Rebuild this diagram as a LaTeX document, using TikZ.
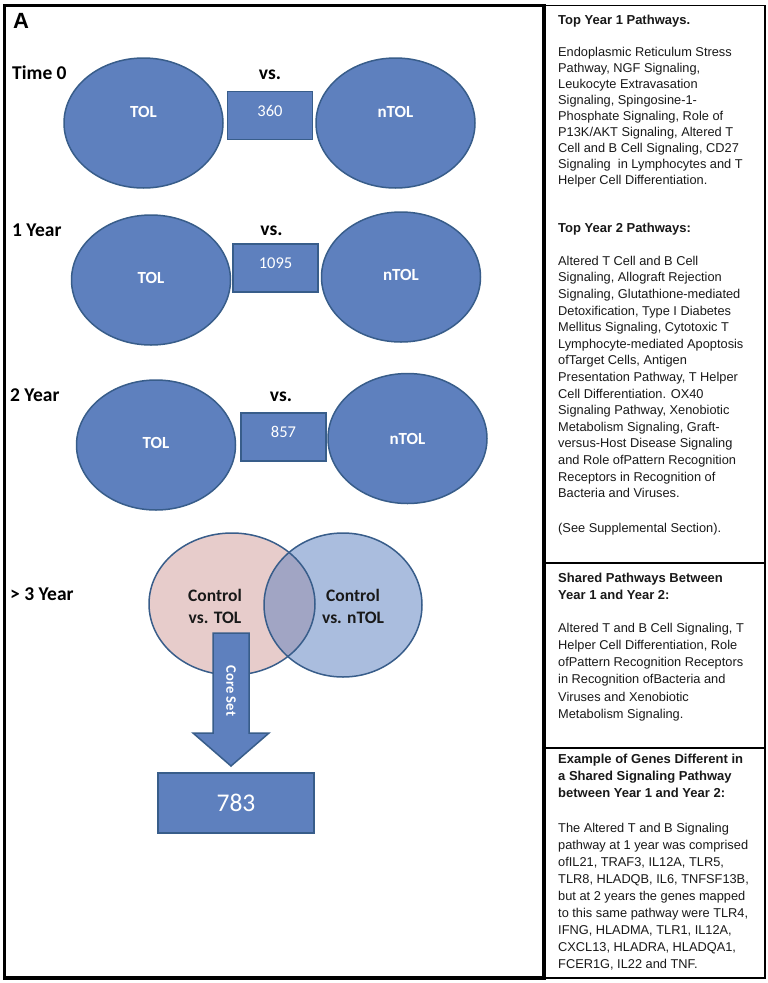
\documentclass[tikz,border=0pt]{standalone}
\usepackage{fontspec}
\setmainfont{Liberation Sans}
\newfontfamily\calfont{Carlito}
\usetikzlibrary{shapes.geometric}
\definecolor{bfill}{RGB}{94,128,190}
\definecolor{bdraw}{RGB}{56,93,138}
\definecolor{pinkf}{RGB}{231,204,203}
\definecolor{lbluef}{RGB}{170,189,222}
\definecolor{overf}{RGB}{161,165,196}
\definecolor{txt}{RGB}{25,25,25}
\begin{document}
\begin{tikzpicture}[x=1pt,y=-1pt,
  oval/.style={ellipse, draw=bdraw, fill=bfill, line width=1.5pt, inner sep=0pt, minimum width=159pt, minimum height=130pt},
  numbox/.style={rectangle, draw=bdraw, fill=bfill, line width=1.5pt, inner sep=0pt, minimum width=85pt, minimum height=48pt},
  ovtext/.style={text=white, inner sep=0pt, font=\calfont\bfseries\fontsize{17}{20}\selectfont},
  numtext/.style={text=white, inner sep=0pt, font=\calfont\fontsize{16.5}{20}\selectfont},
  rowlab/.style={anchor=base west, inner sep=0pt, font=\calfont\bfseries\fontsize{19.5}{22}\selectfont},
  vslab/.style={anchor=base, inner sep=0pt, font=\calfont\bfseries\fontsize{19.5}{22}\selectfont},
  ctext/.style={align=center, inner sep=0pt, text=txt, font=\calfont\bfseries\fontsize{17.5}{22}\selectfont},
  rhead/.style={anchor=north west, inner sep=0pt, align=left, text=txt, font=\bfseries\fontsize{13}{17}\selectfont},
  rbody/.style={anchor=north west, inner sep=0pt, align=left, text=txt, font=\fontsize{12.8}{#1}\selectfont},
  rbody/.default=16.5
]
\useasboundingbox (0,0) rectangle (768,983);
\fill[white] (0,0) rectangle (768,983);

% panel letter
\node[anchor=base west, inner sep=0pt, font=\bfseries\fontsize{22}{24}\selectfont] (letA) at (13,28) {A};

% Time 0
\node[rowlab] (lab0) at (12,79) {Time 0};
\node[vslab] (vs0) at (270,79) {vs.};
\node[oval] (tol0) at (143.5,123) {};
\node[ovtext] (tol0t) at ([yshift=11pt]tol0.center) {TOL};
\node[numbox] (box0) at (270,115.5) {};
\node[numtext] (box0t) at ([yshift=4.5pt]box0.center) {360};
\node[oval] (ntol0) at (395.5,123) {};
\node[ovtext] (ntol0t) at ([yshift=11pt]ntol0.center) {nTOL};

% 1 Year
\node[rowlab] (lab1) at (12,236) {1 Year};
\node[vslab] (vs1) at (271.5,235) {vs.};
\node[oval] (tol1) at (151,280) {};
\node[ovtext] (tol1t) at ([yshift=2pt]tol1.center) {TOL};
\node[numbox] (box1) at (275.5,268) {};
\node[numtext] (box1t) at ([yshift=5pt]box1.center) {1095};
\node[oval] (ntol1) at (401,277) {};
\node[ovtext] (ntol1t) at ([yshift=2pt]ntol1.center) {nTOL};

% 2 Year
\node[rowlab] (lab2) at (10,401) {2 Year};
\node[vslab] (vs2) at (281,401) {vs.};
\node[oval] (tol2) at (156,445) {};
\node[ovtext] (tol2t) at ([yshift=2pt]tol2.center) {TOL};
\node[numbox] (box2) at (283.5,437) {};
\node[numtext] (box2t) at ([yshift=5pt]box2.center) {857};
\node[oval] (ntol2) at (407.5,438.5) {};
\node[ovtext] (ntol2t) at ([yshift=0pt]ntol2.center) {nTOL};

% > 3 Year
\node[rowlab] (lab3) at (10,600) {> 3 Year};
\node[ellipse, fill=pinkf, inner sep=0pt, minimum width=166pt, minimum height=142pt] (ctol) at (232,604) {};
\node[ellipse, fill=lbluef, inner sep=0pt, minimum width=158pt, minimum height=144pt] (cntol) at (343,605) {};
\begin{scope}
  \clip (232,604) ellipse [x radius=83pt, y radius=71pt];
  \fill[overf] (343,605) ellipse [x radius=79pt, y radius=72pt];
\end{scope}
\draw[bdraw, line width=1.5pt] (232,604) ellipse [x radius=83pt, y radius=71pt];
\draw[bdraw, line width=1.5pt] (343,605) ellipse [x radius=79pt, y radius=72pt];
\node[ctext] (ctolt) at (215,606) {Control\\vs. TOL};
\node[ctext] (cntolt) at (353,606) {Control\\vs. nTOL};

% core set arrow
\node[numbox, minimum width=156pt, minimum height=60pt] (core) at (236,803) {};
\node[text=white, inner sep=0pt, font=\calfont\fontsize{25.5}{28}\selectfont] (coret) at (core.center) {783};
\coordinate (atop) at (231,633);
\path[fill=bfill, draw=bdraw, line width=1.5pt, line join=miter]
  ([xshift=-18pt]atop) -- ([xshift=18pt]atop) -- (249,733) -- (269,733) -- (231,766)
  -- (193,733) -- (213,733) -- cycle;
\node[rotate=-90, text=white, inner sep=0pt, font=\calfont\bfseries\fontsize{14.5}{16}\selectfont] (coreset) at (231,691) {Core Set};

% frames
\draw[line width=3.5pt] (4.5,5.5) rectangle (544,978);
\draw[line width=1.8pt] (544,5.5) -- (765,5.5) -- (765,978) -- (544,978);
\draw[line width=1.8pt] (544,563) -- (765,563);
\draw[line width=1.8pt] (544,748) -- (765,748);

% right column texts
\node[rhead] (h1) at (558,12.1) {\strut Top Year 1 Pathways.};
\node[rbody=16] (b1) at (558,44.8) {\strut Endoplasmic Reticulum Stress\\
Pathway, NGF Signaling,\\
Leukocyte Extravasation\\
Signaling, Spingosine-1-\\
Phosphate Signaling, Role of\\
P13K/AKT Signaling, Altered T\\
Cell and B Cell Signaling, CD27\\
Signaling \ in Lymphocytes and T\\
Helper Cell Differentiation.};
\node[rhead] (h2) at (558,220.1) {\strut Top Year 2 Pathways:};
\node[rbody=16.6] (b2) at (558,253.4) {\strut Altered T Cell and B Cell\\
Signaling, Allograft Rejection\\
Signaling, Glutathione-mediated\\
Detoxification, Type I Diabetes\\
Mellitus Signaling, Cytotoxic T\\
Lymphocyte-mediated Apoptosis\\
ofTarget Cells, Antigen\\
Presentation Pathway, T Helper\\
Cell Differentiation. OX40\\
Signaling Pathway, Xenobiotic\\
Metabolism Signaling, Graft-\\
versus-Host Disease Signaling\\
and Role ofPattern Recognition\\
Receptors in Recognition of\\
Bacteria and Viruses.};
\node[rbody] (b2s) at (558,520.4) {\strut (See Supplemental Section).};

\node[rhead] (h3) at (558,570.1) {\strut Shared Pathways Between\\Year 1 and Year 2:};
\node[rbody=17.2] (b3) at (558,620) {\strut Altered T and B Cell Signaling, T\\
Helper Cell Differentiation, Role\\
ofPattern Recognition Receptors\\
in Recognition ofBacteria and\\
Viruses and Xenobiotic\\
Metabolism Signaling.};

\node[rhead] (h4) at (558,751.1) {\strut Example of Genes Different in\\a Shared Signaling Pathway\\between Year 1 and Year 2:};
\node[rbody=17.1] (b4) at (558,820) {\strut The Altered T and B Signaling\\
pathway at 1 year was comprised\\
ofIL21, TRAF3, IL12A, TLR5,\\
TLR8, HLADQB, IL6, TNFSF13B,\\
but at 2 years the genes mapped\\
to this same pathway were TLR4,\\
IFNG, HLADMA, TLR1, IL12A,\\
CXCL13, HLADRA, HLADQA1,\\
FCER1G, IL22 and TNF.};
\end{tikzpicture}
\end{document}
